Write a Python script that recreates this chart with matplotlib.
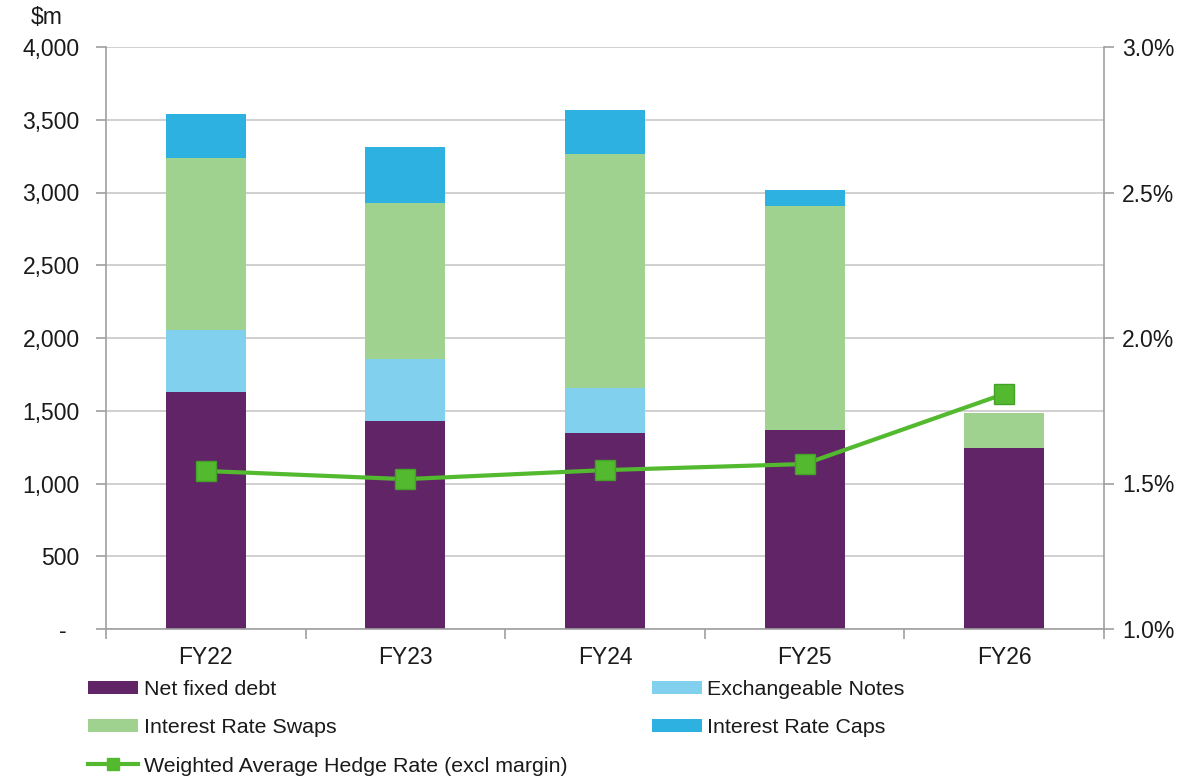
import matplotlib
matplotlib.use("Agg")
import matplotlib.pyplot as plt
import numpy as np
from matplotlib.ticker import FuncFormatter, MultipleLocator
from matplotlib.lines import Line2D

plt.rcParams["font.family"] = ["Liberation Sans", "DejaVu Sans"]

# Hedge book by financial year ($m)
years = ["FY22", "FY23", "FY24", "FY25", "FY26"]
net_fixed_debt = [1630, 1430, 1345, 1370, 1245]
exchangeable_notes = [425, 425, 310, 0, 0]
interest_rate_swaps = [1180, 1075, 1610, 1535, 240]
interest_rate_caps = [305, 385, 305, 115, 0]
hedge_rate = [1.543, 1.515, 1.546, 1.567, 1.808]  # % (right axis)

c_net = "#612466"
c_exch = "#80D0EE"
c_swap = "#9FD18F"
c_caps = "#2CB1E0"
c_line = "#53B92E"
grid_c = "#C8C8C8"
spine_c = "#A0A0A0"
text_c = "#1A1A1A"
tick_fs = 16.5
legend_fs = 15.4

fig = plt.figure(figsize=(11.8, 7.79), dpi=100)
ax = fig.add_axes([106 / 1180, 1 - 629 / 779, (1104 - 106) / 1180, (629 - 47) / 779])

x = np.arange(len(years))
w = 0.40
b1 = np.array(net_fixed_debt, float)
b2 = b1 + np.array(exchangeable_notes, float)
b3 = b2 + np.array(interest_rate_swaps, float)

ax.bar(x, net_fixed_debt, w, color=c_net, label="Net fixed debt", zorder=2)
ax.bar(x, exchangeable_notes, w, bottom=b1, color=c_exch, label="Exchangeable Notes", zorder=2)
ax.bar(x, interest_rate_swaps, w, bottom=b2, color=c_swap, label="Interest Rate Swaps", zorder=2)
ax.bar(x, interest_rate_caps, w, bottom=b3, color=c_caps, label="Interest Rate Caps", zorder=2)

ax.set_xlim(-0.5, len(years) - 0.5)
ax.set_ylim(0, 4000)
ax.yaxis.set_major_locator(MultipleLocator(500))
ax.yaxis.set_major_formatter(FuncFormatter(lambda v, p: "-  " if v == 0 else f"{v:,.0f}"))
ax.grid(axis="y", color=grid_c, linewidth=1.2, zorder=0)
ax.set_axisbelow(True)

ax.set_xticks(x)
ax.set_xticklabels(years)
ax.set_xticks(np.arange(-0.5, len(years)), minor=True)
ax.tick_params(axis="x", which="major", length=0, pad=12, labelsize=tick_fs, labelcolor=text_c)
ax.tick_params(axis="x", which="minor", length=7, color=spine_c, width=1.2)
ax.tick_params(axis="y", length=7, color=spine_c, width=1.2, labelsize=tick_fs,
               labelcolor=text_c, pad=12)

for s in ["top", "right"]:
    ax.spines[s].set_visible(False)
for s in ["left", "bottom"]:
    ax.spines[s].set_color(spine_c)
    ax.spines[s].set_linewidth(1.2)

ax2 = ax.twinx()
ax2.set_ylim(1.0, 3.0)
ax2.yaxis.set_major_locator(MultipleLocator(0.5))
ax2.yaxis.set_major_formatter(FuncFormatter(lambda v, p: f"{v:.1f}%"))
ax2.tick_params(axis="y", length=7, color=spine_c, width=1.2, labelsize=tick_fs,
                labelcolor=text_c, pad=6)
for s in ["top", "left", "bottom"]:
    ax2.spines[s].set_visible(False)
ax2.spines["right"].set_color(spine_c)
ax2.spines["right"].set_linewidth(1.2)

ax2.plot(x, hedge_rate, color=c_line, linewidth=3, marker="s", markersize=14,
         markerfacecolor=c_line, markeredgecolor="#45A02A", markeredgewidth=1,
         label="Weighted Average Hedge Rate (excl margin)", zorder=5)

fig.text(47 / 1180, 1 - 18 / 779, "$m", fontsize=tick_fs, color=text_c, ha="center", va="center")

h1, l1 = ax.get_legend_handles_labels()
h2, l2 = ax2.get_legend_handles_labels()
line_h = Line2D([], [], color=c_line, linewidth=3, marker="s", markersize=9,
                markerfacecolor=c_line, markeredgecolor=c_line)
handles = [h1[0], h1[2], line_h, h1[1], h1[3]]
labels = [l1[0], l1[2], l2[0], l1[1], l1[3]]
fig.legend(handles, labels, ncol=2, loc="upper left",
           bbox_to_anchor=(88 / 1180, 1 - 680 / 779), frameon=False,
           fontsize=legend_fs, handlelength=2.35, handleheight=0.55, handletextpad=0.25,
           columnspacing=3.95, labelspacing=0.9, borderaxespad=0, borderpad=0,
           labelcolor=text_c)

fig.savefig("out.png", dpi=100)
